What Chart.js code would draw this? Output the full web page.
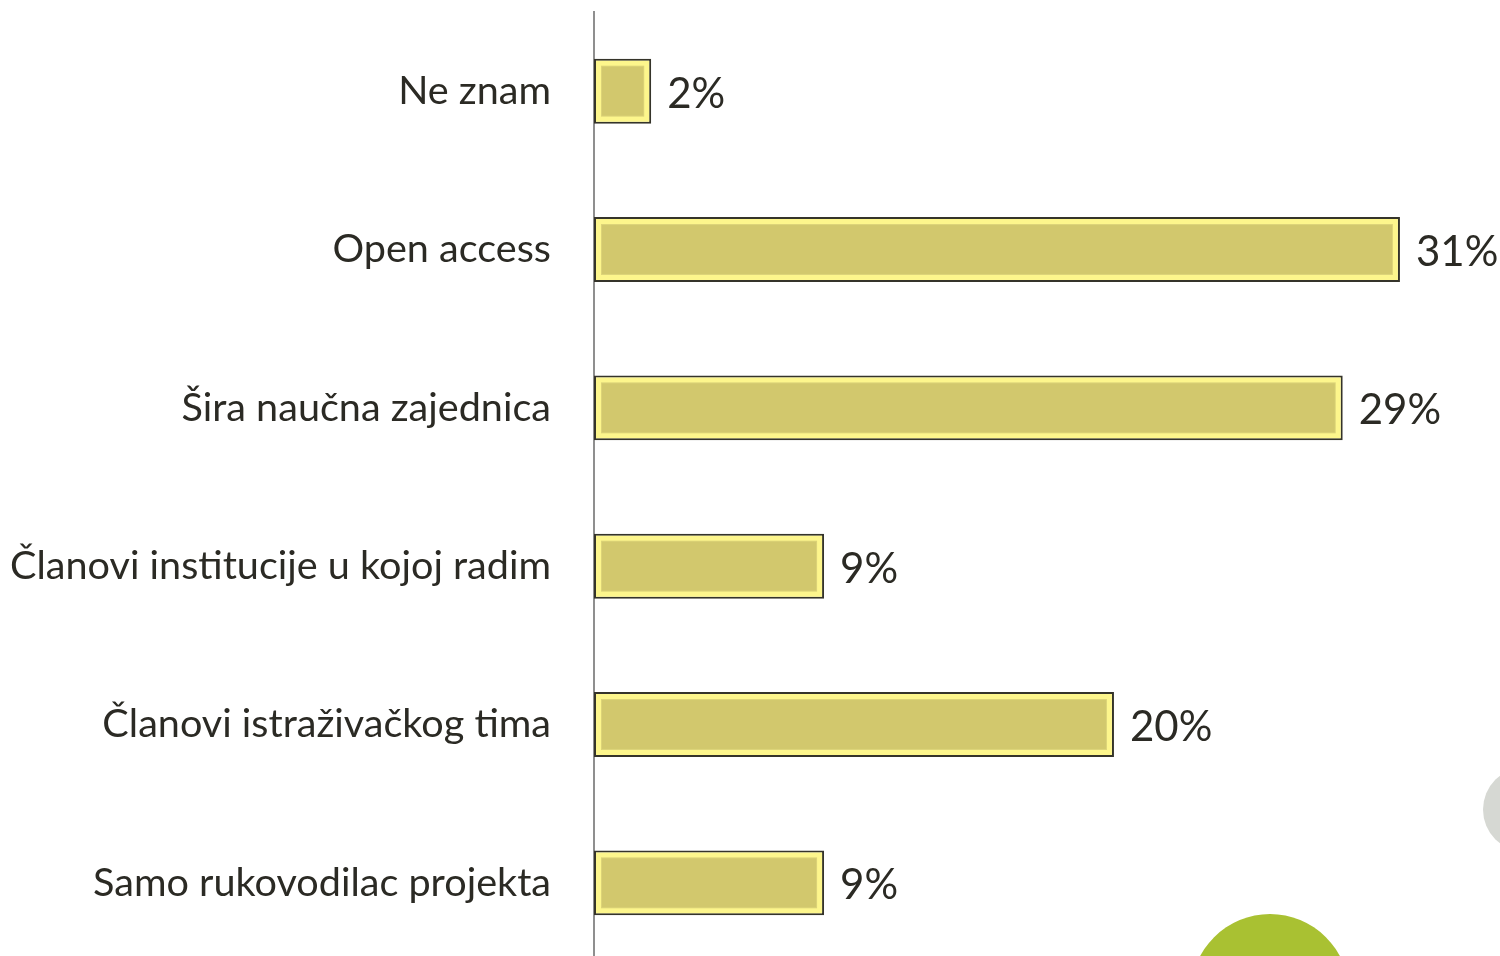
<!DOCTYPE html>
<html>
<head>
<meta charset="utf-8">
<script src="https://cdn.jsdelivr.net/npm/chart.js@4.4.0/dist/chart.umd.min.js"></script>
<style>
  html, body { margin: 0; padding: 0; background: #fff; overflow: hidden; width: 1500px; height: 956px; }
  #wrap { position: absolute; left: 0; top: 0; width: 1500px; height: 962px; }
  .dot { position: absolute; border-radius: 50%; }
  #green { left: 1191px; top: 914px; width: 158px; height: 158px; background: #a9c132; }
  #grey { left: 1483px; top: 767px; width: 85px; height: 85px; background: #d6d8d3; }
</style>
</head>
<body>
<div id="wrap"><canvas id="chart"></canvas></div>
<div class="dot" id="green"></div>
<div class="dot" id="grey"></div>
<script>
// categories top to bottom
const categories = [
  'Ne znam',
  'Open access',
  'Šira naučna zajednica',
  'Članovi institucije u kojoj radim',
  'Članovi istraživačkog tima',
  'Samo rukovodilac projekta'
];
// shares in percent (labels show rounded values)
const shares = [2.2, 31, 28.8, 8.85, 20, 8.85];
const xMax = 34.85;

const textColor = '#2b2a24';
const tickFont = { family: 'Lato', size: 39.6 };
const valueFont = '42px Lato';

// inner olive panel drawn inside each bar (bevel look) + value labels
const bevelPlugin = {
  id: 'bevel',
  afterDatasetsDraw(chart) {
    const ctx = chart.ctx;
    const meta = chart.getDatasetMeta(0);
    ctx.save();
    meta.data.forEach((bar) => {
      const left = Math.min(bar.base, bar.x);
      const right = Math.max(bar.base, bar.x);
      const top = bar.y - bar.height / 2;
      const bottom = bar.y + bar.height / 2;
      const inset = 8;
      ctx.fillStyle = '#dcd378';
      ctx.fillRect(left + inset - 1, top + inset - 1, right - left - 2 * inset + 2, bottom - top - 2 * inset + 2);
      ctx.fillStyle = '#d2c86d';
      ctx.fillRect(left + inset, top + inset, right - left - 2 * inset, bottom - top - 2 * inset);
    });
    ctx.fillStyle = textColor;
    ctx.font = valueFont;
    ctx.textBaseline = 'middle';
    ctx.textAlign = 'left';
    meta.data.forEach((bar, i) => {
      ctx.fillText(Math.round(shares[i]) + '%', bar.x + 16, bar.y + 3);
    });
    ctx.restore();
  }
};

new Chart(document.getElementById('chart'), {
  type: 'bar',
  data: {
    labels: categories,
    datasets: [{
      data: shares,
      backgroundColor: '#fdf68c',
      borderColor: '#35342a',
      borderWidth: 2,
      borderSkipped: false,
      barPercentage: 0.82,
      categoryPercentage: 0.5
    }]
  },
  options: {
    indexAxis: 'y',
    responsive: true,
    maintainAspectRatio: false,
    animation: false,
    layout: { padding: { top: 12, right: 0, bottom: 0, left: 0 } },
    plugins: {
      legend: { display: false },
      tooltip: { enabled: false }
    },
    scales: {
      x: {
        display: false,
        min: 0,
        max: xMax
      },
      y: {
        grid: { display: false, drawTicks: false },
        border: { display: true, color: '#8f8f8f', width: 2 },
        ticks: {
          color: textColor,
          font: tickFont,
          padding: 43
        },
        afterFit(scale) {
          scale.width = 594;
          scale.paddingTop = 0;
          scale.paddingBottom = 0;
        }
      }
    }
  },
  plugins: [bevelPlugin]
});
</script>
</body>
</html>
